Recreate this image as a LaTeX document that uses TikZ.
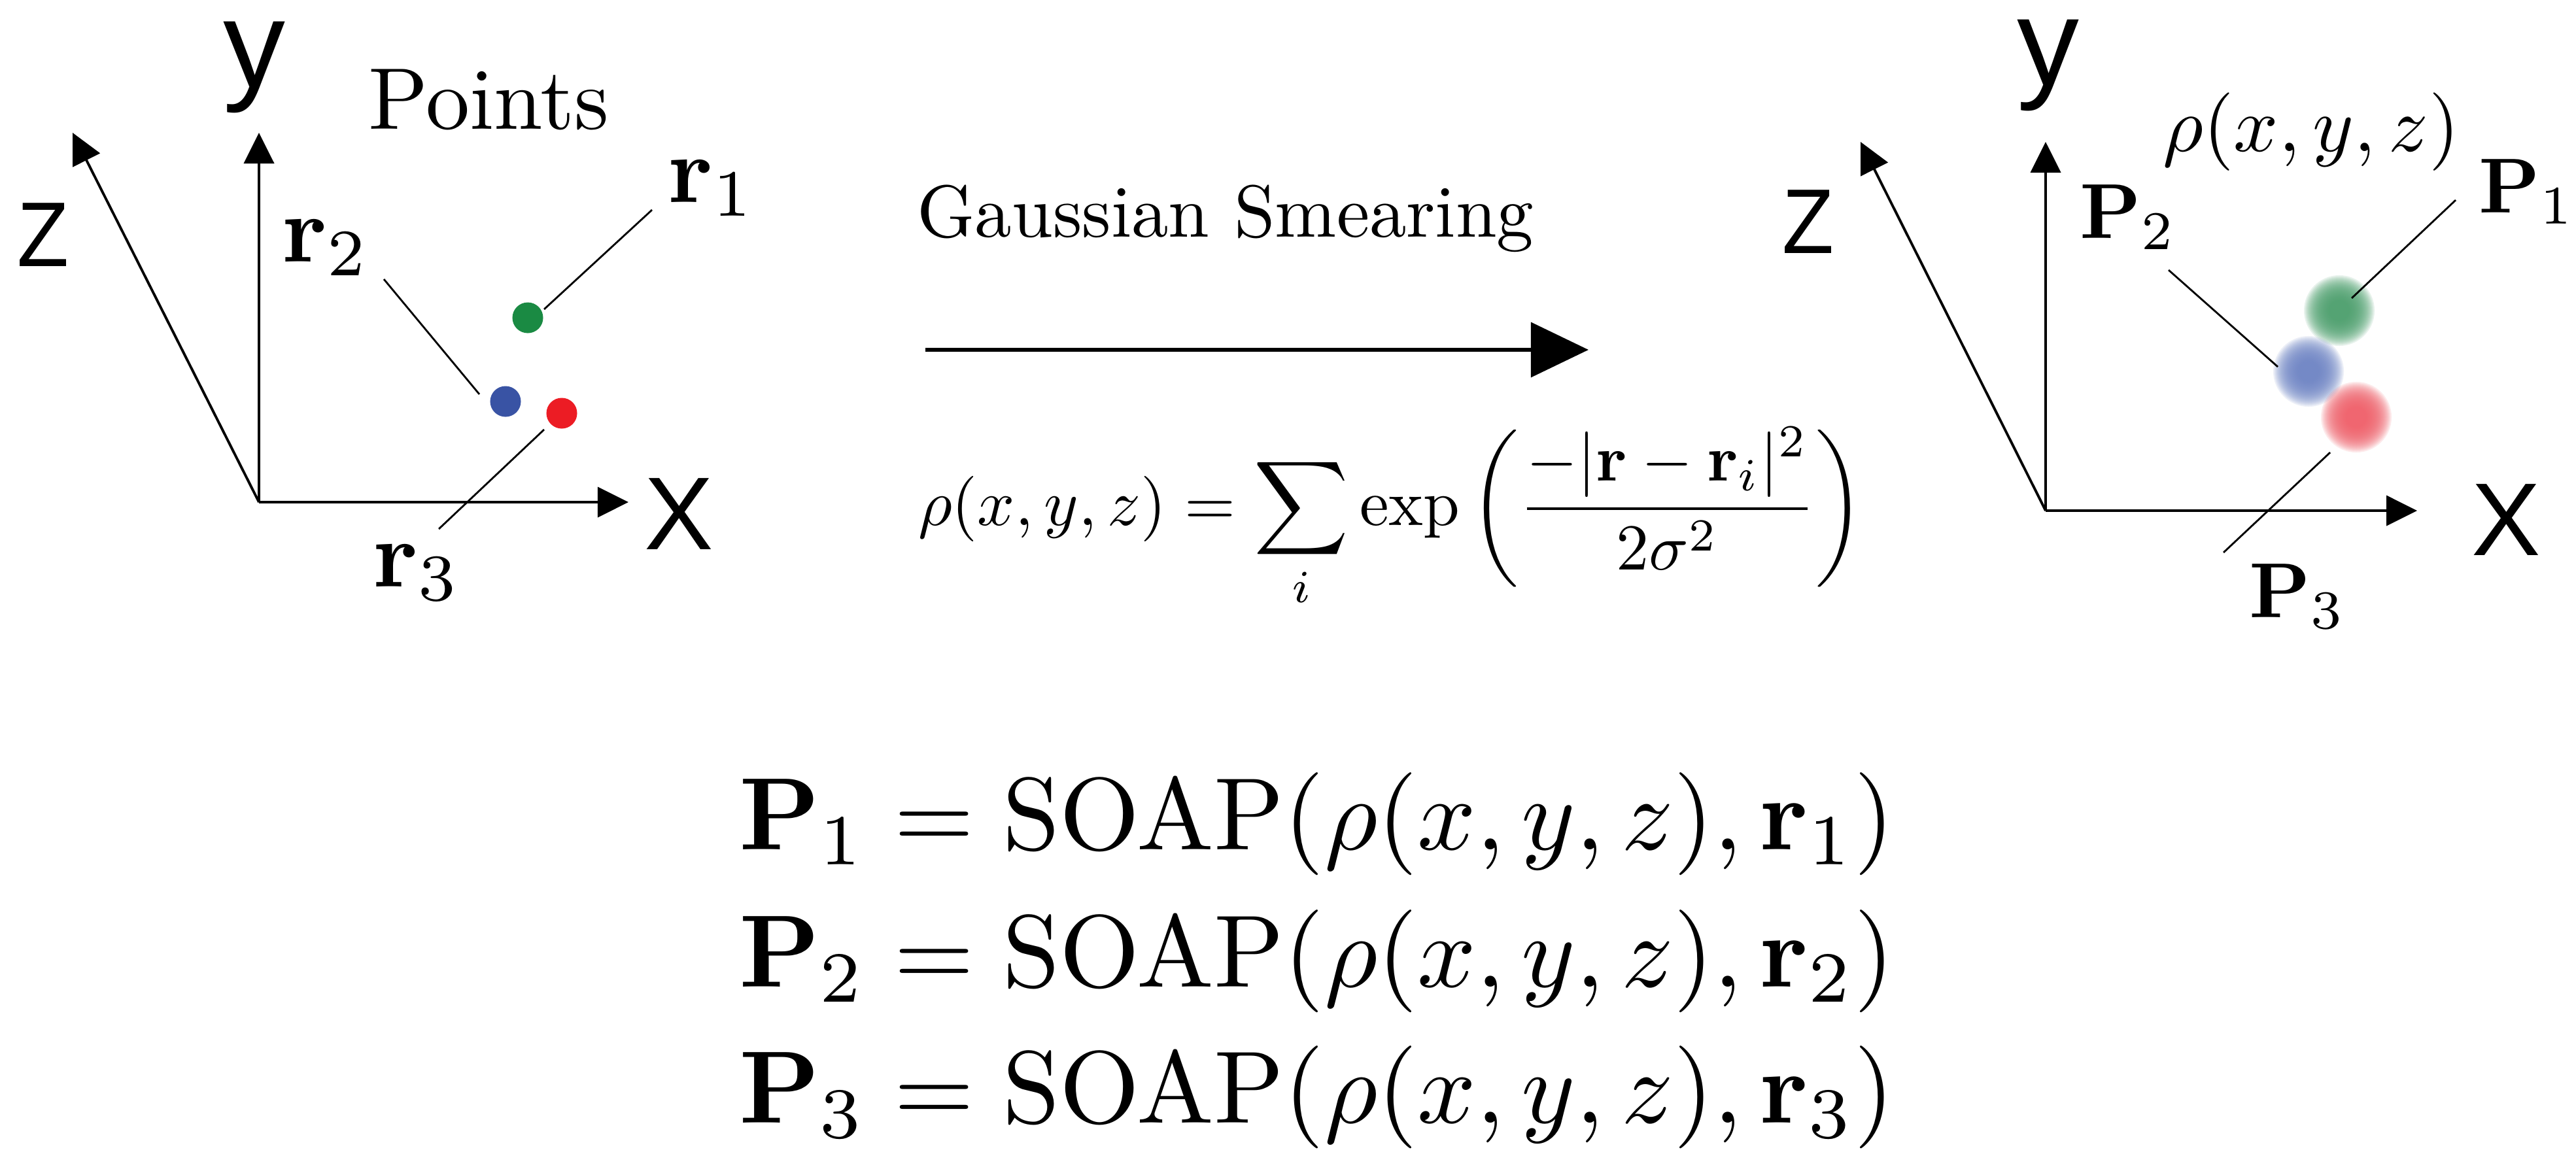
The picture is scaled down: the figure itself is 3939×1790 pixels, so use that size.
\documentclass[tikz,border=0pt]{standalone}
\usepackage[no-math]{fontspec}
\newfontfamily\axfont{Liberation Sans}
\usetikzlibrary{arrows.meta}
\definecolor{dgreen}{RGB}{26,138,67}
\definecolor{dblue}{RGB}{57,83,164}
\definecolor{dred}{RGB}{236,28,36}
\definecolor{bgreen}{RGB}{77,160,110}
\definecolor{bblue}{RGB}{111,133,198}
\definecolor{bred}{RGB}{240,96,106}
\begin{document}
\begin{tikzpicture}[x=0.01cm,y=-0.01cm,
  axis/.style={line width=1.1pt,-{Triangle[length=0.47cm,width=0.46cm]}},
  bigarrow/.style={line width=1.9pt,-{Triangle[length=0.88cm,width=0.83cm]}},
  leader/.style={line width=0.8pt},
  axlabel/.style={inner sep=0pt,font=\axfont},
  mathlabel/.style={inner sep=0pt,anchor=base west},
  dot/.style={circle,inner sep=0pt,minimum size=0.47cm},
  blurdot/.style={circle,inner sep=0pt,minimum size=0.7cm}]
\useasboundingbox[fill=white] (0,0) rectangle (3939,1790);

% ---------- left axes ----------
\coordinate (O1) at (396,768);
\coordinate (Y1) at (396,203);
\coordinate (X1) at (961,768);
\coordinate (Z1) at (111,203);
\draw[axis] (O1) -- (Y1);
\draw[axis] (O1) -- (X1);
\draw[axis] (O1) -- (Z1);
\node[axlabel,scale=5.4,anchor=base] (ly1) at (389,133) {y};
\node[axlabel,scale=4.0,xscale=0.92] (lz1) at (66,359) {Z};
\node[axlabel,scale=4.5] (lx1) at (1038,786) {X};
\node[mathlabel,scale=3.81] (pts) at (561,197) {Points};

\node[dot,fill=dgreen] (g1) at (807,486) {};
\node[dot,fill=dblue] (b1) at (773,614) {};
\node[dot,fill=dred] (rd1) at (859,632) {};

\node[mathlabel,scale=4.12] (r1) at (1019,309) {$\mathbf{r}_1$};
\node[mathlabel,scale=4.12] (r2) at (429,400) {$\mathbf{r}_2$};
\node[mathlabel,scale=4.12] (r3) at (568,897) {$\mathbf{r}_3$};

\coordinate (r1a) at (997,321);  \coordinate (r1b) at (832,473);
\coordinate (r2a) at (587,427);  \coordinate (r2b) at (733,603);
\coordinate (r3a) at (832,657);  \coordinate (r3b) at (671,809);
\draw[leader] (r1a) -- (r1b);
\draw[leader] (r2a) -- (r2b);
\draw[leader] (r3a) -- (r3b);

% ---------- middle ----------
\node[mathlabel,scale=3.21] (gs) at (1400,362) {Gaussian Smearing};
\coordinate (A1) at (1415,535);
\coordinate (A2) at (2429,535);
\draw[bigarrow] (A1) -- (A2);
\node[mathlabel,scale=2.85] (rho) at (1402,803)
  {$\displaystyle \rho(x,y,z)=\sum_i\exp\left(\frac{-|\mathbf{r}-\mathbf{r}_i|^2}{2\sigma^2}\right)$};

% ---------- right axes ----------
\coordinate (O2) at (3128,781);
\coordinate (Y2) at (3128,217);
\coordinate (X2) at (3696,781);
\coordinate (Z2) at (2845,217);
\draw[axis] (O2) -- (Y2);
\draw[axis] (O2) -- (X2);
\draw[axis] (O2) -- (Z2);
\node[axlabel,scale=5.4,anchor=base] (ly2) at (3132,130) {y};
\node[axlabel,scale=4.0,xscale=0.92] (lz2) at (2765,339) {Z};
\node[axlabel,scale=4.5] (lx2) at (3832,795) {X};
\node[mathlabel,scale=3.4] (rholab) at (3305,231) {$\rho(x,y,z)$};

\node[blurdot] (g2) at (3577,475) {};
\node[blurdot] (b2) at (3530,568) {};
\node[blurdot] (rd2) at (3603,638) {};
\foreach \c/\n in {bgreen/g2,bblue/b2,bred/rd2}{
  \foreach \r in {1.6,1.8,...,5.4}{
    \fill[\c,opacity=0.13] (\n) circle[radius=\r mm];
  }
}

\node[mathlabel,scale=3.39] (P1) at (3788,325) {$\mathbf{P}_1$};
\node[mathlabel,scale=3.39] (P2) at (3178,364) {$\mathbf{P}_2$};
\node[mathlabel,scale=3.39] (P3) at (3437,944) {$\mathbf{P}_3$};

\coordinate (p1a) at (3755,306); \coordinate (p1b) at (3596,456);
\coordinate (p2a) at (3316,413); \coordinate (p2b) at (3483,561);
\coordinate (p3a) at (3563,692); \coordinate (p3b) at (3400,845);
\draw[leader] (p1a) -- (p1b);
\draw[leader] (p2a) -- (p2b);
\draw[leader] (p3a) -- (p3b);

% ---------- bottom equations ----------
\node[mathlabel,scale=4.47] (eq1) at (1127,1299) {$\mathbf{P}_1=\mathrm{SOAP}(\rho(x,y,z),\mathbf{r}_1)$};
\node[mathlabel,scale=4.47] (eq2) at (1127,1509) {$\mathbf{P}_2=\mathrm{SOAP}(\rho(x,y,z),\mathbf{r}_2)$};
\node[mathlabel,scale=4.47] (eq3) at (1127,1717) {$\mathbf{P}_3=\mathrm{SOAP}(\rho(x,y,z),\mathbf{r}_3)$};
\end{tikzpicture}
\end{document}
